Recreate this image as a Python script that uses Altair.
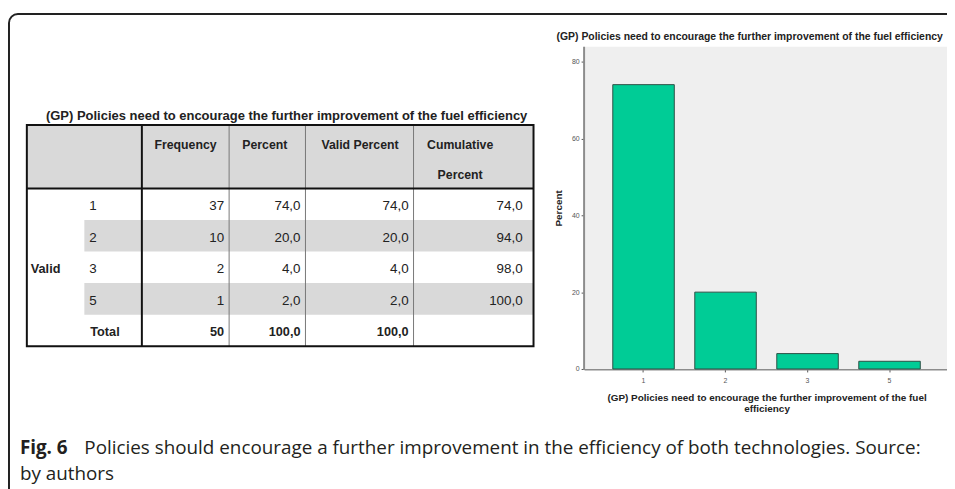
import altair as alt
import pandas as pd

# ---------------- data ----------------
table_title = "(GP) Policies need to encourage the further improvement of the fuel efficiency"
categories = ["1", "2", "3", "5"]
frequency = [37, 10, 2, 1]
percent = [74.0, 20.0, 4.0, 2.0]
valid_percent = [74.0, 20.0, 4.0, 2.0]
cumulative_percent = [74.0, 94.0, 98.0, 100.0]
total_frequency = 50
total_percent = 100.0
total_valid_percent = 100.0
header_labels = ["Frequency", "Percent", "Valid Percent", "Cumulative", "Percent"]
row_group_label = "Valid"
total_label = "Total"
x_axis_title = ["(GP) Policies need to encourage the further improvement of the fuel", "efficiency"]
y_axis_title = "Percent"
y_ticks = [0, 20, 40, 60, 80]
caption_bold = "Fig. 6"
caption_line1 = "Policies should encourage a further improvement in the efficiency of both technologies. Source:"
caption_line2 = "by authors"

TFONT = "Liberation Sans, Arial, sans-serif"
CAPTION_FONT = "Open Sans"


def fmt(v):
    return f"{v:.1f}".replace(".", ",")


rows = categories + [total_label]
table_df = pd.DataFrame({
    "row": rows,
    "freq": [str(v) for v in frequency] + [str(total_frequency)],
    "pct": [fmt(v) for v in percent] + [fmt(total_percent)],
    "vpct": [fmt(v) for v in valid_percent] + [fmt(total_valid_percent)],
    "cum": [fmt(v) for v in cumulative_percent] + [""],
    "idx": list(range(len(rows))),
})
bar_df = pd.DataFrame({"category": categories, "percent": percent})
one = pd.DataFrame({"k": [0]})

row_scale = alt.Scale(type="band", domain=rows, range=[180, 339], paddingInner=0, paddingOuter=0)
Yrow = alt.Y("row:N", scale=row_scale, axis=None)
FS = 13.5
FSB = 12.8

layers = []

# outer rounded frame
layers.append(alt.Chart(one).mark_rect(fillOpacity=0, stroke="#222222", strokeWidth=2, cornerRadius=9).encode(
    x=alt.value(1), x2=alt.value(1500), y=alt.value(4), y2=alt.value(900)))

# ---------------- table ----------------
layers.append(alt.Chart(one).mark_rect(fill="#d9d9d9").encode(
    x=alt.value(19), x2=alt.value(530), y=alt.value(116), y2=alt.value(180)))
layers.append(alt.Chart(table_df).transform_filter("datum.idx % 2 == 1").mark_rect(fill="#d9d9d9").encode(
    x=alt.value(77), x2=alt.value(530), y=Yrow))

for xv in [223, 300, 409]:
    layers.append(alt.Chart(one).mark_rule(color="#777777", strokeWidth=1).encode(
        x=alt.value(xv), y=alt.value(116), y2=alt.value(339)))
layers.append(alt.Chart(one).mark_rule(color="#111111", strokeWidth=2).encode(
    x=alt.value(135), y=alt.value(116), y2=alt.value(339)))
layers.append(alt.Chart(one).mark_rule(color="#111111", strokeWidth=2).encode(
    x=alt.value(19), x2=alt.value(530), y=alt.value(180)))
layers.append(alt.Chart(one).mark_rect(fillOpacity=0, stroke="#111111", strokeWidth=2).encode(
    x=alt.value(19), x2=alt.value(530), y=alt.value(116), y2=alt.value(339)))

layers.append(alt.Chart(one).mark_text(text=table_title, font=TFONT, fontSize=13.1, fontWeight="bold",
                                       color="#222222", baseline="middle", align="center").encode(
    x=alt.value(281), y=alt.value(107)))

for lab, xv, yv in zip(header_labels, [179, 259, 355, 456, 456], [136, 136, 136, 136, 166]):
    layers.append(alt.Chart(one).mark_text(text=lab, font=TFONT, fontSize=12.4, fontWeight="bold",
                                           color="#222222", baseline="middle", align="center").encode(
        x=alt.value(xv), y=alt.value(yv)))

layers.append(alt.Chart(table_df).transform_filter(f"datum.row != '{total_label}'").mark_text(
    font=TFONT, fontSize=FS, color="#222222", align="left", baseline="middle", dy=2).encode(
    x=alt.value(82), y=Yrow, text="row:N"))
layers.append(alt.Chart(table_df).transform_filter(f"datum.row == '{total_label}'").mark_text(
    font=TFONT, fontSize=FSB, fontWeight="bold", color="#222222", align="left", baseline="middle", dy=2).encode(
    x=alt.value(83), y=Yrow, text="row:N"))
layers.append(alt.Chart(table_df).transform_filter("datum.row == '3'").mark_text(
    text=row_group_label, font=TFONT, fontSize=FSB, fontWeight="bold", color="#222222",
    align="left", baseline="middle", dy=2).encode(x=alt.value(23), y=Yrow))

for field, xv in [("freq", 218), ("pct", 295), ("vpct", 404), ("cum", 519)]:
    layers.append(alt.Chart(table_df).transform_filter(f"datum.row != '{total_label}'").mark_text(
        font=TFONT, fontSize=FS, color="#222222", align="right", baseline="middle", dy=2).encode(
        x=alt.value(xv), y=Yrow, text=f"{field}:N"))
    layers.append(alt.Chart(table_df).transform_filter(f"datum.row == '{total_label}'").mark_text(
        font=TFONT, fontSize=FSB, fontWeight="bold", color="#222222", align="right", baseline="middle", dy=2).encode(
        x=alt.value(xv), y=Yrow, text=f"{field}:N"))

# ---------------- bar chart ----------------
layers.append(alt.Chart(one).mark_rect(fill="#efefef").encode(
    x=alt.value(581), x2=alt.value(960), y=alt.value(37), y2=alt.value(362)))
layers.append(alt.Chart(one).mark_rule(color="#8c8c8c", strokeWidth=2).encode(
    x=alt.value(581), y=alt.value(37), y2=alt.value(363)))
layers.append(alt.Chart(one).mark_text(text=table_title, font=TFONT, fontSize=10.5, fontWeight="bold",
                                       color="#222222", baseline="middle", align="center").encode(
    x=alt.value(748), y=alt.value(27)))

bars = alt.Chart(bar_df).mark_bar(color="#00cc96", stroke="#2d4f45", strokeWidth=1).encode(
    x=alt.X("category:N",
            scale=alt.Scale(domain=categories, range=[581, 949], paddingInner=0.25, paddingOuter=0.35),
            axis=alt.Axis(orient="bottom", offset=-119, title=x_axis_title, labelAngle=0, labelFontSize=7,
                          labelColor="#555555", labelPadding=5, tickSize=3, tickColor="#555555",
                          domainColor="#8c8c8c", domainWidth=2, titleFont=TFONT, titleFontSize=10,
                          titleFontWeight="bold", titleColor="#222222", titlePadding=9, titleLineHeight=11)),
    y=alt.Y("percent:Q",
            scale=alt.Scale(domain=[0, 80], range=[362, 52], nice=False, zero=True),
            axis=alt.Axis(orient="left", offset=-581, values=y_ticks, title=y_axis_title, domain=False,
                          grid=False, tickSize=3, tickColor="#555555", labelFontSize=7, labelColor="#555555",
                          labelPadding=2, titleFont=TFONT, titleFontSize=10, titleFontWeight="bold",
                          titleColor="#222222", titlePadding=8, titleY=199.5)),
)
layers.append(bars)

# ---------------- caption ----------------
layers.append(alt.Chart(one).mark_text(text=caption_bold, font=CAPTION_FONT, fontSize=19, fontWeight="bold",
                                       color="#231f20", align="left", baseline="middle").encode(
    x=alt.value(12), y=alt.value(442)))
layers.append(alt.Chart(one).mark_text(text=caption_line1, font=CAPTION_FONT, fontSize=19,
                                       color="#231f20", align="left", baseline="middle").encode(
    x=alt.value(77), y=alt.value(442)))
layers.append(alt.Chart(one).mark_text(text=caption_line2, font=CAPTION_FONT, fontSize=19,
                                       color="#231f20", align="left", baseline="middle").encode(
    x=alt.value(12), y=alt.value(468)))

chart = alt.layer(*layers).resolve_scale(x="independent", y="independent").properties(
    width=947, height=481, autosize=alt.AutoSizeParams(type="none"), padding=0, background="white"
).configure_view(stroke=None)

chart.save("out.html", embed_options={"renderer": "svg", "actions": False})
